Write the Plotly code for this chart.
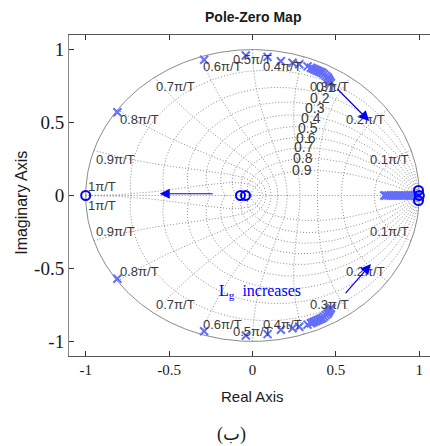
import numpy as np
import plotly.graph_objects as go

# ---- data -------------------------------------------------------------
# complex poles in the upper half plane (conjugates are mirrored below)
pole_re_upper = [-0.81, -0.29, -0.04, 0.09, 0.17, 0.24, 0.28,
                 0.33, 0.35, 0.36, 0.37, 0.38, 0.39, 0.40, 0.41, 0.42,
                 0.43, 0.44, 0.45, 0.455, 0.46, 0.465, 0.47]
pole_im_upper = [0.57, 0.93, 0.96, 0.95, 0.92, 0.91, 0.90,
                 0.885, 0.875, 0.87, 0.865, 0.86, 0.855, 0.85, 0.845, 0.84,
                 0.83, 0.82, 0.81, 0.80, 0.79, 0.78, 0.77]
# real poles near z = 1
pole_re_real = [0.79, 0.80, 0.815, 0.83, 0.845, 0.86, 0.875, 0.89, 0.905,
                0.92, 0.935, 0.95, 0.96, 0.97, 0.98, 0.99, 1.0]
# zeros
zero_re = [-1.0, -0.072, -0.042, 0.995, 0.995, 1.0]
zero_im = [0.0, 0.0, 0.0, 0.035, -0.035, 0.0]

zeta_vals = [0.1, 0.2, 0.3, 0.4, 0.5, 0.6, 0.7, 0.8, 0.9]
wn_vals = [0.1, 0.2, 0.3, 0.4, 0.5, 0.6, 0.7, 0.8, 0.9, 1.0]   # x pi/T
wn_labels = ["0.1π/T", "0.2π/T", "0.3π/T", "0.4π/T", "0.5π/T",
             "0.6π/T", "0.7π/T", "0.8π/T", "0.9π/T", "1π/T"]
x_ticks = [-1, -0.5, 0, 0.5, 1]
x_ticktext = ["-1", "-0.5", "0", "0.5", "1"]
y_ticks = [-1, -0.5, 0, 0.5, 1]
y_ticktext = ["-1", "-0.5", "0", "0.5", "1"]

# ---- styles -----------------------------------------------------------
GRID = "#8c8c8c"
LABEL = "#3a3a3a"
BLUE = "#0000ff"
SANS = "Liberation Sans, Arial, sans-serif"
SERIF = "Liberation Serif, Times New Roman, serif"

fig = go.Figure()

def grid_line(z, dash="1px,2px", color=GRID, width=1):
    fig.add_trace(go.Scatter(x=z.real, y=z.imag, mode="lines",
                             line=dict(color=color, width=width, dash=dash),
                             hoverinfo="skip", showlegend=False))

# unit circle
t = np.linspace(0, 2 * np.pi, 400)
grid_line(np.exp(1j * t), dash="solid", color="#8a8a8a", width=1)
# real axis (zeta = 1)
grid_line(np.array([-1.0 + 0j, 1.0 + 0j]))

# constant damping curves
phi = np.linspace(0, np.pi, 200)
for zt in zeta_vals:
    m = zt / np.sqrt(1 - zt ** 2)
    z = np.exp(phi * (-m + 1j))
    grid_line(z)
    grid_line(np.conj(z))

# constant natural-frequency curves
zs = np.linspace(0, 1, 120)
for w in wn_vals:
    z = np.exp(w * np.pi * (-zs + 1j * np.sqrt(1 - zs ** 2)))
    grid_line(z)
    grid_line(np.conj(z))

annotations = []
# natural-frequency labels at the unit circle
for w, lab in zip(wn_vals, wn_labels):
    th = w * np.pi
    cx, cy = np.cos(th), np.sin(th)
    xa = "right" if cx > 0.01 else ("left" if cx < -0.01 else "center")
    for sgn in (1, -1):
        if w == 1.0:
            ya = "bottom" if sgn > 0 else "top"
        else:
            ya = "top" if sgn > 0 else "bottom"
        annotations.append(dict(x=cx, y=sgn * cy, text=lab, showarrow=False,
                                xanchor=xa, yanchor=ya,
                                font=dict(family=SANS, size=13, color=LABEL)))

# damping labels along the 0.3*pi/T curve
for zt in zeta_vals:
    zz = np.exp(0.3 * np.pi * (-zt + 1j * np.sqrt(1 - zt ** 2)))
    annotations.append(dict(x=zz.real, y=zz.imag, text=f"{zt:g}", showarrow=False,
                            xanchor="right", yanchor="middle", xshift=-4, yshift=1,
                            font=dict(family=SANS, size=14, color=LABEL)))

# poles and zeros
pole_x = pole_re_upper + pole_re_upper + pole_re_real
pole_y = pole_im_upper + [-v for v in pole_im_upper] + [0.0] * len(pole_re_real)
fig.add_trace(go.Scatter(x=pole_x, y=pole_y, mode="markers",
                         marker=dict(symbol="x-thin-open", size=8,
                                     line=dict(color=BLUE, width=2)),
                         showlegend=False))
fig.add_trace(go.Scatter(x=zero_re, y=zero_im, mode="markers",
                         marker=dict(symbol="circle-open", size=9, color=BLUE,
                                     line=dict(color=BLUE, width=2)),
                         showlegend=False))

# direction arrows
for (x0, y0, x1, y1) in [(-0.23, 0.012, -0.557, 0.012),
                         (0.50, 0.74, 0.70, 0.51),
                         (0.55, -0.68, 0.71, -0.47)]:
    annotations.append(dict(x=x1, y=y1, ax=x0, ay=y0, xref="x", yref="y",
                            axref="x", ayref="y", text="", showarrow=True,
                            arrowhead=2, arrowsize=1.7, arrowwidth=1.2,
                            arrowcolor=BLUE))

annotations.append(dict(x=-0.21, y=-0.66, text="L<sub>g</sub>  increases",
                        showarrow=False, xanchor="left", yanchor="middle",
                        font=dict(family=SERIF, size=16, color=BLUE)))

# titles
annotations.append(dict(x=0, y=1.1, xref="x", yref="y", yshift=18,
                        text="<b>Pole-Zero Map</b>", showarrow=False,
                        xanchor="center", yanchor="middle",
                        font=dict(family=SANS, size=14, color="#1a1a1a")))
annotations.append(dict(x=0, y=-1.1, xref="x", yref="y", yshift=-40,
                        text="Real Axis", showarrow=False,
                        xanchor="center", yanchor="middle",
                        font=dict(family=SANS, size=15, color="#1a1a1a")))
annotations.append(dict(x=0, y=-0.05, xref="paper", yref="y", xshift=-69 + 22,
                        text="Imaginary Axis", showarrow=False, textangle=-90,
                        xanchor="center", yanchor="middle",
                        font=dict(family=SANS, size=16, color="#1a1a1a")))
annotations.append(dict(x=0.5, y=0, xref="paper", yref="paper",
                        xshift=231 - (69 + 361 / 2), yshift=-78,
                        text="(ب)", showarrow=False,
                        xanchor="center", yanchor="middle",
                        font=dict(family="Liberation Serif, DejaVu Sans, serif",
                                  size=18, color="#1a1a1a")))

fig.update_layout(
    width=430, height=446,
    margin=dict(l=69, r=0, t=35, b=90),
    paper_bgcolor="white", plot_bgcolor="white",
    showlegend=False,
    annotations=annotations,
    xaxis=dict(range=[-1.1, 1.064], tickvals=x_ticks, ticktext=x_ticktext,
               ticks="inside", ticklen=5, tickcolor="#333", showline=True,
               linecolor="#555", linewidth=1, mirror="ticks", showgrid=False,
               zeroline=False, tickfont=dict(family=SERIF, size=15, color="#1a1a1a")),
    yaxis=dict(range=[-1.1, 1.1], tickvals=y_ticks, ticktext=y_ticktext,
               ticks="inside", ticklen=5, tickcolor="#333", showline=True,
               linecolor="#888", linewidth=1, mirror=False, showgrid=False,
               zeroline=False, tickfont=dict(family=SERIF, size=19, color="#1a1a1a")),
)

fig.write_html("out.html")
